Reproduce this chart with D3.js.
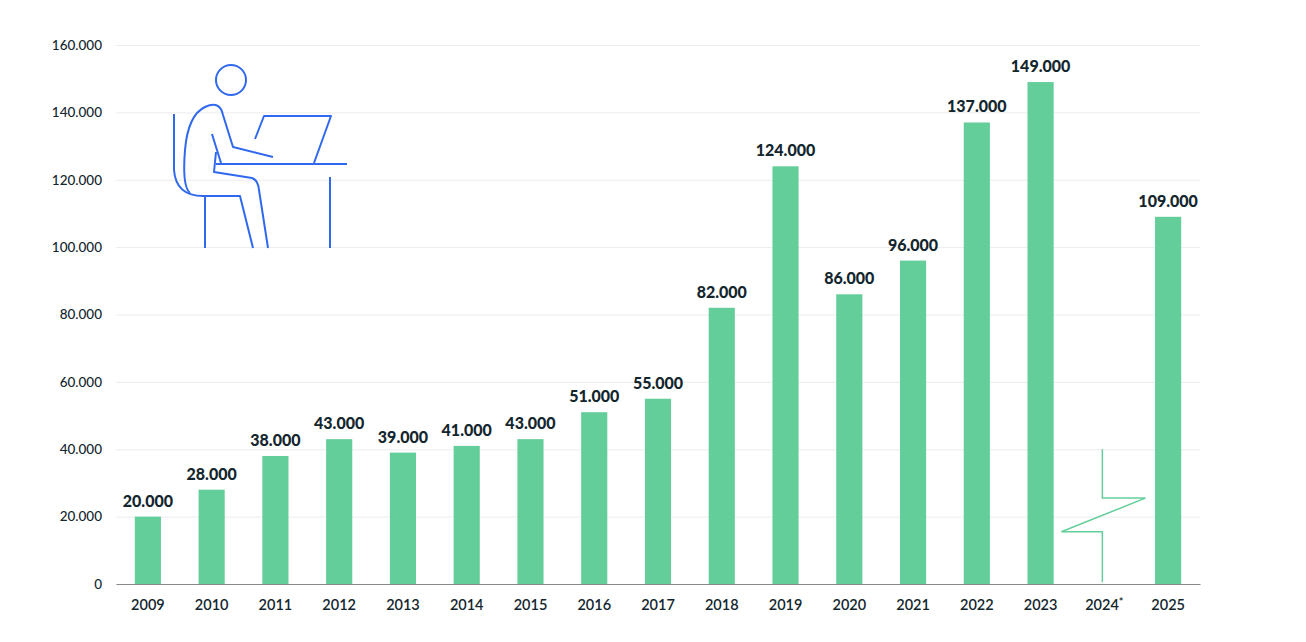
<!DOCTYPE html>
<html>
<head>
<meta charset="utf-8">
<script src="https://cdn.jsdelivr.net/npm/d3@7"></script>
<style>
  html, body { margin: 0; padding: 0; background: #fff; }
  svg { display: block; font-family: Lato, "Open Sans", sans-serif; }
  .tick text { fill: #13262e; }
</style>
</head>
<body>
<div id="chart"></div>
<script>
// data
const years = ["2009", "2010", "2011", "2012", "2013", "2014", "2015", "2016", "2017",
  "2018", "2019", "2020", "2021", "2022", "2023", "2024*", "2025"];
// 2024 has no bar (break marker instead)
const values = [20000, 28000, 38000, 43000, 39000, 41000, 43000, 51000, 55000,
  82000, 124000, 86000, 96000, 137000, 149000, null, 109000];
const yTicks = [0, 20000, 40000, 60000, 80000, 100000, 120000, 140000, 160000];

const data = years.map((y, i) => ({ year: y, value: values[i] }));

/** CONSTANTS */
let width = 1306,
  height = 642,
  margin = { top: 45, bottom: 58, left: 116, right: 106 };

const barColor = "#64ce9a",
  iconColor = "#3069ee",
  textColor = "#13262e";

const fmt = v => d3.format(",")(v).replace(/,/g, ".");

/** SCALES */
let xScale = d3
  .scaleBand()
  .domain(years)
  .range([margin.left, width - margin.right])
  .paddingInner(0.59)
  .paddingOuter(0.295);

let yScale = d3
  .scaleLinear()
  .domain([0, 160000])
  .range([height - margin.bottom, margin.top]);

/** MAIN CODE */
let svg = d3
  .select("#chart")
  .append("svg")
  .attr("width", width)
  .attr("height", height);

// grid
let yAxis = d3.axisLeft(yScale)
  .tickValues(yTicks)
  .tickSize(-(width - margin.left - margin.right))
  .tickPadding(14)
  .tickFormat(fmt);

let yG = svg.append("g")
  .attr("transform", `translate(${margin.left},0)`)
  .call(yAxis);
yG.select(".domain").remove();
yG.selectAll(".tick line").attr("stroke", "#ececec").attr("stroke-width", 1);
yG.selectAll(".tick text").attr("font-size", 13.5).attr("font-family", "Lato, sans-serif")
  .attr("font-weight", 500);

// bars
let bars = data.filter(d => d.value != null);
svg.selectAll("rect.bar")
  .data(bars)
  .join("rect")
  .attr("class", "bar")
  .attr("x", d => xScale(d.year))
  .attr("y", d => yScale(d.value))
  .attr("width", xScale.bandwidth())
  .attr("height", d => yScale(0) - yScale(d.value))
  .attr("fill", barColor);

// value labels
svg.selectAll("text.label")
  .data(bars)
  .join("text")
  .attr("class", "label")
  .attr("x", d => xScale(d.year) + xScale.bandwidth() / 2)
  .attr("y", d => yScale(d.value) - 10)
  .attr("text-anchor", "middle")
  .attr("font-size", 16)
  .attr("font-weight", 900)
  .attr("fill", textColor)
  .text(d => fmt(d.value));

// x axis
let xAxis = d3.axisBottom(xScale).tickSize(0).tickPadding(16);
let xG = svg.append("g")
  .attr("transform", `translate(0, ${yScale(0)})`)
  .call(xAxis);
xG.select(".domain").attr("stroke", "#8a8a8a").attr("stroke-width", 1.2);
xG.selectAll(".tick text").attr("font-size", 14.5).attr("font-family", "Lato, sans-serif")
  .attr("font-weight", 600).attr("fill", "#1a1a1a");
// superscript asterisk on 2024
xG.selectAll(".tick text")
  .filter(d => d.endsWith("*"))
  .text(null)
  .each(function (d) {
    let t = d3.select(this);
    t.append("tspan").text(d.slice(0, -1));
    t.append("tspan").attr("dy", "-0.35em").attr("font-size", 11).text("*");
  });

// break marker for 2024
let bx = xScale("2024*") + xScale.bandwidth() / 2 - 2;
svg.append("path")
  .attr("d", `M${bx},${yScale(40000)} V${yScale(25500)} H${bx + 43} L${bx - 41},${yScale(15500)} H${bx} V${yScale(500)}`)
  .attr("fill", "none")
  .attr("stroke", barColor)
  .attr("stroke-width", 1.5);

// person at desk icon
let icon = svg.append("g")
  .attr("fill", "none")
  .attr("stroke", iconColor)
  .attr("stroke-width", 2)
  .attr("stroke-linecap", "butt")
  .attr("stroke-linejoin", "round");
icon.append("circle").attr("cx", 231).attr("cy", 80).attr("r", 15);
// chair
icon.append("path").attr("d", "M174,114 V170 Q176,196 203,196 H240 L253,248");
icon.append("path").attr("d", "M205,196 V248");
// torso and arm
icon.append("path").attr("d", "M190,193 Q182,186 185,150 Q188,115 205,107 Q220,100 223,115 L233,147 L273,157");
// front of body and thigh
icon.append("path").attr("d", "M212,134 L221,163");
icon.append("path").attr("d", "M216,152 L214,172 L252,178 Q258,180 259,190 L268,248");
// desk
icon.append("path").attr("d", "M216,164 H347");
icon.append("path").attr("d", "M330,177 V248");
// laptop
icon.append("path").attr("d", "M255,139 L264,116 H331 L314,163");
</script>
</body>
</html>
